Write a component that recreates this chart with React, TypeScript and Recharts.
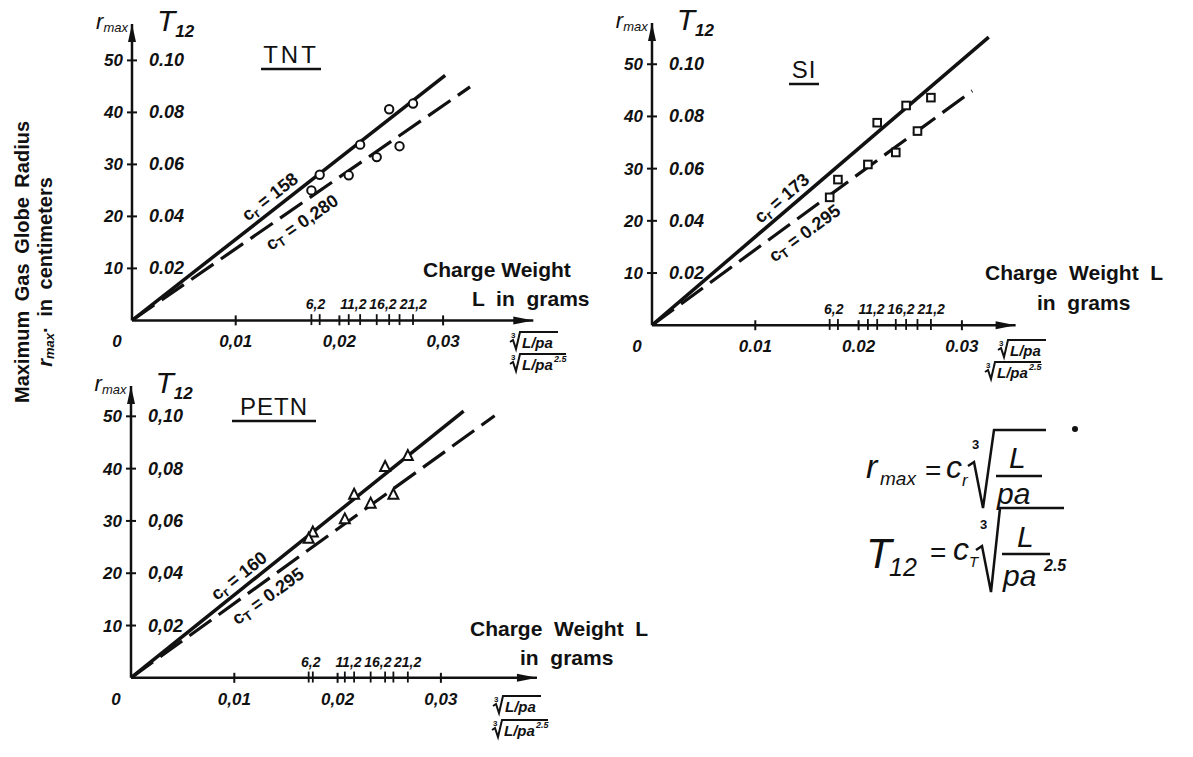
import React from 'react';
import { ComposedChart, Line, Scatter, XAxis, YAxis, ReferenceLine, ReferenceDot } from 'recharts';

const INK = '#111';
const FONT = "'Liberation Sans', Arial, sans-serif";

// abscissa = cube root of L/pa (for r_max) and of L/pa^2.5 (for T12)
const xTicks = [0, 0.01, 0.02, 0.03];
const rTicks = [10, 20, 30, 40, 50];
// charge weights L in grams, marked above the abscissa
const chargeWeights = ['6,2', '11,2', '16,2', '21,2'];

// TNT  (r in cm, T in s)
const tntRX = [0.0181, 0.022, 0.0248, 0.0271];
const tntR = [28.0, 33.8, 40.6, 41.7];
const tntTX = [0.0173, 0.0209, 0.0236, 0.0258];
const tntT = [0.05, 0.0558, 0.0628, 0.067];
const tntFitRX = [0, 0.0302];
const tntFitR = [0, 47.1];
const tntFitTX = [0, 0.0326];
const tntFitT = [0, 0.0898];

// SI
const siRX = [0.018, 0.0218, 0.0246, 0.027];
const siR = [27.9, 38.8, 42.1, 43.6];
const siTX = [0.0172, 0.0209, 0.0236, 0.0257];
const siT = [0.049, 0.0616, 0.0662, 0.0744];
const siFitRX = [0, 0.0326];
const siFitR = [0, 55.2];
const siFitTX = [0, 0.031];
const siFitT = [0, 0.0898];

// PETN
const petnRX = [0.0176, 0.0216, 0.0246, 0.0268];
const petnR = [27.8, 35.0, 40.3, 42.4];
const petnTX = [0.0172, 0.0207, 0.0232, 0.0254];
const petnT = [0.0532, 0.0606, 0.0666, 0.07];
const petnFitRX = [0, 0.0322];
const petnFitR = [0, 51.0];
const petnFitTX = [0, 0.0352];
const petnFitT = [0, 0.1002];

// r axis value = 500 * T axis value (50 <-> 0.10)
const T_PER_R = 1 / 500;

// plot offsets inside each chart (margin + axis size)
const ML = 70, MR = 30, MT = 45, MB = 55;
const Y_AXIS_W = 60, X_AXIS_H = 30;

const panels = [
  {
    key: 'tnt', title: 'TNT', titleSpacing: 3, underline: 30, cr: '158', ct: '0,280', marker: 'circle',
    rX: tntRX, r: tntR, tX: tntTX, t: tntT,
    fitRX: tntFitRX, fitR: tntFitR, fitTX: tntFitTX, fitT: tntFitT,
    x0: 132, y0: 320, kx: 10370, ky: 5.2, xMax: 0.0387, yMax: 57,
    tSep: '.', xSep: ',',
    title_at: [291, 63], crAt: [0.0133, 23.7], ctAt: [0.0164, 18.8],
    cw: [[423, 277, 'Charge Weight'], [472, 306, 'L  in  grams']],
    root: [[510, 348], [510, 370]],
  },
  {
    key: 'si', title: 'SI', titleSpacing: 1, underline: 15, cr: '173', ct: '0.295', marker: 'square',
    rX: siRX, r: siR, tX: siTX, t: siT,
    fitRX: siFitRX, fitR: siFitR, fitTX: siFitTX, fitT: siFitT,
    x0: 651.7, y0: 325, kx: 10330, ky: 5.22, xMax: 0.0352, yMax: 57.9,
    tSep: '.', xSep: '.',
    title_at: [804, 78], crAt: [0.0126, 24.3], ctAt: [0.0148, 17.6],
    cw: [[985, 280, 'Charge  Weight  L'], [1037, 310, 'in  grams']],
    root: [[998, 356], [985, 378]],
  },
  {
    key: 'petn', title: 'PETN', titleSpacing: 1, underline: 42, cr: '160', ct: '0.295', marker: 'triangle',
    rX: petnRX, r: petnR, tX: petnTX, t: petnT,
    fitRX: petnFitRX, fitR: petnFitR, fitTX: petnFitTX, fitT: petnFitT,
    x0: 130.5, y0: 678.3, kx: 10330, ky: 5.23, xMax: 0.0393, yMax: 55.8,
    tSep: ',', xSep: ',',
    title_at: [274, 415], crAt: [0.0105, 19.6], ctAt: [0.0133, 15.7],
    cw: [[470, 636, 'Charge  Weight  L'], [520, 665, 'in  grams']],
    root: [[493, 712], [492, 736]],
  },
];

type P = typeof panels[number];

const numStyle = { fontFamily: FONT, fontStyle: 'italic' as const, fontWeight: 700, fontSize: 17, fill: INK };
// small nudges so the crowded charge-weight labels stay apart
const cwNudge = [0, -1, 0, 7];

function markerShape(kind: string) {
  return (props: any) => {
    const { cx, cy } = props;
    if (cx == null || cy == null) return <g />;
    if (kind === 'circle') return <circle cx={cx} cy={cy} r={4.2} fill="#fff" stroke={INK} strokeWidth={2} />;
    if (kind === 'square') return <rect x={cx - 3.8} y={cy - 3.8} width={7.6} height={7.6} fill="#fff" stroke={INK} strokeWidth={2} />;
    return <polygon points={`${cx},${cy - 6} ${cx + 5},${cy + 4} ${cx - 5},${cy + 4}`} fill="#fff" stroke={INK} strokeWidth={2} />;
  };
}

function Panel({ p }: { p: P }) {
  const W = p.xMax * p.kx;
  const H = p.yMax * p.ky;
  const axisY = MT + H;
  const rData = p.rX.map((x, i) => ({ x, y: p.r[i] }));
  const tData = p.tX.map((x, i) => ({ x, y: p.t[i] }));
  const fitR = p.fitRX.map((x, i) => ({ x, y: p.fitR[i] }));
  const fitT = p.fitTX.map((x, i) => ({ x, y: p.fitT[i] }));
  const mids = p.rX.map((x, i) => (x + p.tX[i]) / 2);

  const xTick = (props: any) => {
    const { x, payload } = props;
    const v = payload.value;
    if (v === 0) return <text x={x - 15} y={axisY + 27} textAnchor="middle" {...numStyle}>0</text>;
    return (
      <g>
        <line x1={x} x2={x} y1={axisY - 5} y2={axisY + 5} stroke={INK} strokeWidth={2} />
        <text x={x} y={axisY + 27} textAnchor="middle" {...numStyle}>{v.toFixed(2).replace('.', p.xSep)}</text>
      </g>
    );
  };
  const wTick = (props: any) => {
    const { x, index } = props;
    return (
      <text x={x + cwNudge[index]} y={axisY - 11} textAnchor="middle" {...numStyle} fontSize={14}>{chargeWeights[index]}</text>
    );
  };
  const yTick = (props: any) => {
    const { y, payload } = props;
    const v = payload.value;
    return (
      <g>
        <line x1={ML - 5} x2={ML + 5} y1={y} y2={y} stroke={INK} strokeWidth={2} />
        <text x={ML - 9} y={y + 6} textAnchor="end" {...numStyle}>{v}</text>
        <text x={ML + 17} y={y + 6} textAnchor="start" {...numStyle} fontSize={18}>{(v * T_PER_R).toFixed(2).replace('.', p.tSep)}</text>
      </g>
    );
  };

  return (
    <div style={{ position: 'absolute', left: p.x0 - ML, top: p.y0 - H - MT }}>
      <ComposedChart width={ML + W + MR} height={MT + H + MB}
        margin={{ top: MT - X_AXIS_H, right: MR, bottom: MB - X_AXIS_H, left: ML - Y_AXIS_W }}>
        <XAxis xAxisId={0} type="number" dataKey="x" domain={[0, p.xMax]} allowDataOverflow ticks={xTicks} interval={0}
          height={X_AXIS_H} axisLine={{ stroke: INK, strokeWidth: 2.5 }} tickLine={false} tick={xTick} />
        <XAxis xAxisId="w" orientation="top" type="number" dataKey="x" domain={[0, p.xMax]} allowDataOverflow ticks={mids} interval={0}
          height={X_AXIS_H} axisLine={false} tickLine={false} tick={wTick} />
        <YAxis yAxisId="r" type="number" dataKey="y" domain={[0, p.yMax]} allowDataOverflow ticks={rTicks} interval={0}
          width={Y_AXIS_W} axisLine={{ stroke: INK, strokeWidth: 2.5 }} tickLine={false} tickSize={0} tick={yTick} />
        <YAxis yAxisId="t" type="number" dataKey="y" domain={[0, p.yMax * T_PER_R]} allowDataOverflow hide />

        {p.rX.concat(p.tX).map((x, i) => (
          <ReferenceLine key={`w${i}`} yAxisId="r" ifOverflow="visible" stroke={INK} strokeWidth={1.8}
            segment={[{ x, y: -0.9 }, { x, y: 1.2 }]} />
        ))}
        <ReferenceDot yAxisId="r" x={0} y={p.yMax} ifOverflow="visible"
          shape={(s: any) => <polygon points={`${s.cx},${s.cy} ${s.cx + 4},${s.cy + 18} ${s.cx - 4},${s.cy + 18}`} fill={INK} />} />
        <ReferenceDot yAxisId="r" x={p.xMax} y={0} ifOverflow="visible"
          shape={(s: any) => <polygon points={`${s.cx},${s.cy} ${s.cx - 20},${s.cy - 4} ${s.cx - 20},${s.cy + 4}`} fill={INK} />} />

        <Line yAxisId="r" data={fitR} dataKey="y" type="linear" stroke={INK} strokeWidth={3.5} dot={false} isAnimationActive={false} />
        <Line yAxisId="t" data={fitT} dataKey="y" type="linear" stroke={INK} strokeWidth={3.2} strokeDasharray="27 9" dot={false} isAnimationActive={false} />
        <Scatter yAxisId="r" data={rData} shape={markerShape(p.marker)} isAnimationActive={false} />
        <Scatter yAxisId="t" data={tData} shape={markerShape(p.marker)} isAnimationActive={false} />
      </ComposedChart>
    </div>
  );
}

function RootLabel({ x, y, exp }: { x: number; y: number; exp?: boolean }) {
  const end = exp ? x + 56 : x + 48;
  return (
    <g>
      <path d={`M${x},${y - 6} L${x + 3},${y - 8} L${x + 6},${y + 1} L${x + 10},${y - 16} L${end},${y - 16}`} fill="none" stroke={INK} strokeWidth={2} />
      <text x={x + 1} y={y - 10} fontFamily={FONT} fontSize={8} fontWeight={700} fill={INK}>3</text>
      <text x={x + 12} y={y} fontFamily={FONT} fontSize={15} fontStyle="italic" fontWeight={700} fill={INK}>L/pa</text>
      {exp && <text x={x + 44} y={y - 8} fontFamily={FONT} fontSize={9} fontStyle="italic" fontWeight={700} fill={INK}>2.5</text>}
    </g>
  );
}

function Annotations({ p }: { p: P }) {
  const px = (x: number) => p.x0 + x * p.kx;
  const py = (y: number) => p.y0 - y * p.ky;
  const angR = (Math.atan2(p.fitR[1] * p.ky, p.fitRX[1] * p.kx) * 180) / Math.PI;
  const angT = (Math.atan2((p.fitT[1] / T_PER_R) * p.ky, p.fitTX[1] * p.kx) * 180) / Math.PI;
  const topY = p.y0 - p.yMax * p.ky;
  const coef = { fontFamily: FONT, fontWeight: 700, fontSize: 18, fill: INK };
  return (
    <g>
      {/* axis names */}
      <text x={p.x0 - 4} y={topY + 5} textAnchor="end" fontFamily={FONT} fontStyle="italic" fill={INK}>
        <tspan fontSize={22}>r</tspan><tspan fontSize={13} dy={3}>max</tspan>
      </text>
      <text x={p.x0 + 25} y={topY + 7} fontFamily={FONT} fontStyle="italic" fill={INK}>
        <tspan fontSize={30}>T</tspan><tspan fontSize={17} dy={6} fontWeight={700}>12</tspan>
      </text>
      {/* title */}
      <text x={p.title_at[0]} y={p.title_at[1]} textAnchor="middle" fontFamily={FONT} fontSize={24} letterSpacing={p.titleSpacing} fill={INK}>{p.title}</text>
      <line x1={p.title_at[0] - p.underline} x2={p.title_at[0] + p.underline} y1={p.title_at[1] + 6} y2={p.title_at[1] + 6} stroke={INK} strokeWidth={2.5} />
      {/* coefficient labels along the fitted lines */}
      <text transform={`translate(${px(p.crAt[0])},${py(p.crAt[1])}) rotate(${-angR})`} textAnchor="middle" dominantBaseline="central" {...coef}>
        c<tspan fontSize={13} dy={4}>r</tspan><tspan dy={-4}> = {p.cr}</tspan>
      </text>
      <text transform={`translate(${px(p.ctAt[0])},${py(p.ctAt[1])}) rotate(${-angT})`} textAnchor="middle" dominantBaseline="central" {...coef}>
        c<tspan fontSize={13} dy={4}>T</tspan><tspan dy={-4}> = {p.ct}</tspan>
      </text>
      {/* charge weight caption */}
      {p.cw.map(([x, y, s]) => (
        <text key={String(s)} x={x as number} y={y as number} fontFamily={FONT} fontWeight={700} fontSize={21} fill={INK} style={{ whiteSpace: 'pre' }}>{s}</text>
      ))}
      <RootLabel x={p.root[0][0]} y={p.root[0][1]} />
      <RootLabel x={p.root[1][0]} y={p.root[1][1]} exp />
    </g>
  );
}

function Formulas() {
  const it = { fontFamily: FONT, fontStyle: 'italic' as const, fill: INK };
  return (
    <g>
      <text x={866} y={478} {...it} fontSize={34}>r</text>
      <text x={880} y={485} {...it} fontSize={19}>max</text>
      <text x={925} y={480} fontFamily={FONT} fontSize={28} fill={INK}>=</text>
      <text x={946} y={478} {...it} fontSize={32}>c</text>
      <text x={962} y={486} {...it} fontSize={17}>r</text>
      <path d="M968,466 L974,462 L983,508 L994,430 L1046,430" fill="none" stroke={INK} strokeWidth={2.5} />
      <text x={972} y={449} fontFamily={FONT} fontWeight={700} fontSize={13} fill={INK}>3</text>
      <text x={1009} y={468} {...it} fontSize={30}>L</text>
      <line x1={996} x2={1042} y1={476} y2={476} stroke={INK} strokeWidth={2.5} />
      <text x={997} y={504} {...it} fontSize={30}>pa</text>

      <text x={866} y={568} {...it} fontSize={42}>T</text>
      <text x={889} y={576} {...it} fontSize={25}>12</text>
      <text x={930} y={562} fontFamily={FONT} fontSize={28} fill={INK}>=</text>
      <text x={953} y={560} {...it} fontSize={32}>c</text>
      <text x={969} y={567} {...it} fontSize={15}>T</text>
      <path d="M976,550 L982,546 L991,592 L1000,508 L1064,508" fill="none" stroke={INK} strokeWidth={2.5} />
      <text x={980} y={529} fontFamily={FONT} fontWeight={700} fontSize={13} fill={INK}>3</text>
      <text x={1017} y={547} {...it} fontSize={30}>L</text>
      <line x1={1002} x2={1050} y1={554} y2={554} stroke={INK} strokeWidth={2.5} />
      <text x={1003} y={586} {...it} fontSize={30}>pa</text>
      <text x={1044} y={571} {...it} fontWeight={700} fontSize={16}>2.5</text>
      <circle cx={1075} cy={429} r={3} fill={INK} />
    </g>
  );
}

export default function App() {
  return (
    <div style={{ position: 'absolute', left: 0, top: 0, width: 1193, height: 757, background: '#fff', overflow: 'hidden' }}>
      {panels.map((p) => <Panel key={p.key} p={p} />)}
      <svg width={1193} height={757} style={{ position: 'absolute', left: 0, top: 0, pointerEvents: 'none' }}>
        <text transform="translate(22,262) rotate(-90)" textAnchor="middle" dominantBaseline="central" fontFamily={FONT} fontWeight={700} fontSize={20} fill={INK} style={{ wordSpacing: 4 }}>
          Maximum Gas Globe Radius
        </text>
        <text transform="translate(45,272) rotate(-90)" textAnchor="middle" dominantBaseline="central" fontFamily={FONT} fontWeight={700} fontSize={20} fill={INK} style={{ wordSpacing: 4 }}>
          <tspan fontStyle="italic">r</tspan><tspan fontSize={13} dy={4} fontStyle="italic">max</tspan><tspan dy={-4}>· in centimeters</tspan>
        </text>
        {panels.map((p) => <Annotations key={p.key} p={p} />)}
        <Formulas />
      </svg>
    </div>
  );
}
